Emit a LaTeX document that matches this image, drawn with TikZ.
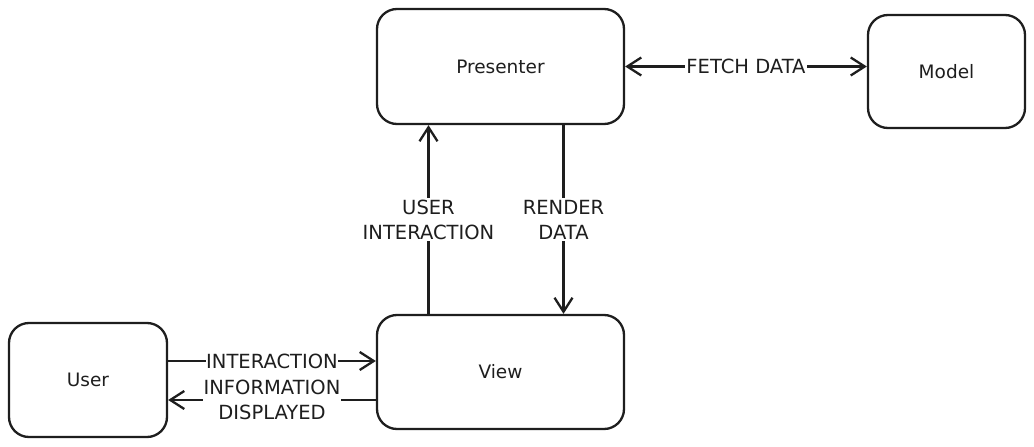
\documentclass[tikz,border=0pt]{standalone}
\usepackage{fontspec}
\setmainfont{DejaVu Sans}
\usetikzlibrary{arrows.meta}
\definecolor{ink}{HTML}{1E1E1E}
\tikzset{
  box/.style={draw=ink, line width=2.3pt, rounded corners=20pt, fill=white,
    inner sep=0pt, text=ink, font=\fontsize{18.5}{22}\selectfont},
  tip/.style={},
  conn/.style={draw=ink, line width=2.3pt, -{Straight Barb[length=14pt,width=18pt,line width=2.3pt]}},
  biconn/.style={draw=ink, line width=2.3pt, {Straight Barb[length=14pt,width=18pt,line width=2.3pt]}-{Straight Barb[length=14pt,width=18pt,line width=2.3pt]}},
  lbl/.style={fill=white, text=ink, inner sep=2pt, align=center,
    font=\fontsize{19.5}{25}\selectfont}
}
\begin{document}
\begin{tikzpicture}[x=1pt,y=-1pt]
\useasboundingbox (0,0) rectangle (1034,447);
\node[box, minimum width=247pt, minimum height=115pt] (presenter) at (500.5,66.5) {Presenter};
\node[box, minimum width=157pt, minimum height=113pt] (model) at (946.5,71.5) {Model};
\node[box, minimum width=247pt, minimum height=114pt] (view) at (500.5,372) {View};
\node[box, minimum width=158pt, minimum height=114pt] (user) at (88,380) {User};
% Presenter <-> Model
\draw[biconn] (presenter.east) -- (presenter.east -| model.west)
  node[lbl, midway, inner sep=1pt] {FETCH DATA};
% View -> Presenter
\draw[conn] ([xshift=-72pt]view.north) -- ([xshift=-72pt]presenter.south)
  node[lbl, midway] {USER\\INTERACTION};
% Presenter -> View
\draw[conn] ([xshift=63pt]presenter.south) -- ([xshift=63pt]view.north)
  node[lbl, midway] {RENDER\\DATA};
% User -> View
\draw[conn] ([yshift=19pt]user.east) -- ([yshift=19pt]user.east -| view.west)
  node[lbl, midway, inner sep=0pt] {INTERACTION};
% View -> User
\draw[conn] ([yshift=-28pt]view.west) -- ([yshift=-28pt]view.west -| user.east)
  node[lbl, midway, inner sep=1pt] {INFORMATION\\DISPLAYED};
\end{tikzpicture}
\end{document}
